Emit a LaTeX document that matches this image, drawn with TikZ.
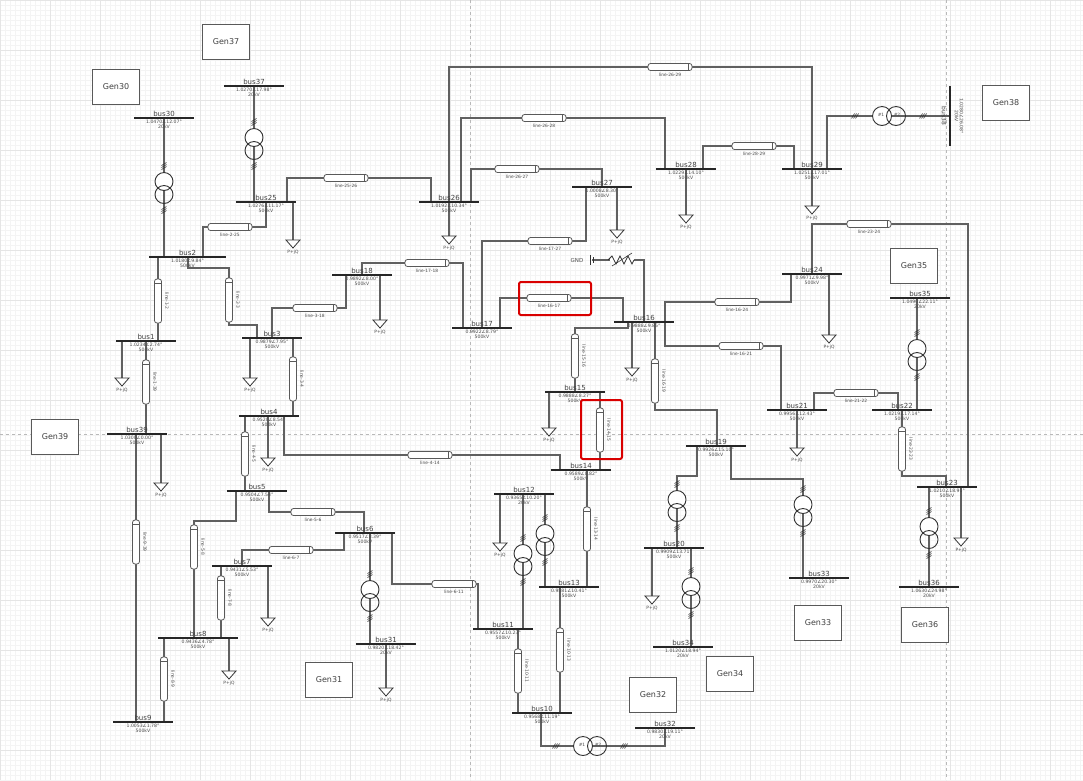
\documentclass[tikz,border=0pt]{standalone}
\usepackage{fontspec}
\setmainfont{DejaVu Sans}
\begin{document}
\begin{tikzpicture}[x=1pt,y=-1pt,
  wire/.style={draw=gray!75!black,line width=1.1pt},
  busbar/.style={draw=black!85,line width=2.6pt},
  buslbl/.style={font=\fontsize{7}{7}\selectfont,text=black!75,inner sep=1pt},
  vallbl/.style={font=\fontsize{4.6}{5}\selectfont,text=black!70,inner sep=0.5pt,align=center},
  linelbl/.style={font=\fontsize{4.4}{5}\selectfont,text=black!70,inner sep=0.5pt},
  pillbox/.style={draw=gray!70!black,fill=white,line width=0.8pt,rounded corners=2.5pt},
  genbox/.style={draw=gray!70!black,fill=white,line width=1.3pt,minimum width=47pt,minimum height=35pt,font=\fontsize{8}{8}\selectfont,text=black!75},
  trcirc/.style={draw=black!80,line width=0.9pt},
  loadtri/.style={draw=black!80,fill=white,line width=0.8pt},
  hl/.style={draw=red!85!black,line width=2pt,rounded corners=2pt}]
\newcommand\busH[6]{\draw[busbar] (#1,#3) -- (#2,#3);
 \node[buslbl,above] at ({(#1+#2)/2},#3) {#4};
 \node[vallbl,below] at ({(#1+#2)/2},{#3+1}) {#5\\#6};}
\newcommand\pillH[3]{\draw[pillbox] ({#1-22},{#2-3.5}) rectangle ({#1+22},{#2+3.5});
 \draw[gray!70!black,line width=0.7pt] ({#1+18},{#2-3.5}) -- ({#1+18},{#2+3.5});
 \node[linelbl] at (#1,{#2+8}) {#3};}
\newcommand\pillV[3]{\draw[pillbox] ({#1-3.5},{#2-22}) rectangle ({#1+3.5},{#2+22});
 \draw[gray!70!black,line width=0.7pt] ({#1-3.5},{#2-18}) -- ({#1+3.5},{#2-18});
 \node[linelbl,rotate=-90] at ({#1+9},#2) {#3};}
\newcommand\load[2]{\draw[loadtri] ({#1-7},#2) -- ({#1+7},#2) -- (#1,{#2+8}) -- cycle;
 \node[linelbl] at (#1,{#2+12}) {P+jQ};}
\newcommand\hashV[2]{\foreach \k in {-2,0,2}{\draw[black!80,line width=0.6pt] ({#1-2.5},{#2+\k+1.5}) -- ({#1+2.5},{#2+\k-1.5});}}
\newcommand\hashH[2]{\foreach \k in {-2,0,2}{\draw[black!80,line width=0.6pt] ({#1+\k-1.5},{#2+2.5}) -- ({#1+\k+1.5},{#2-2.5});}}
\newcommand\trV[3]{\hashV{#1}{#2-#3-16}\hashV{#1}{#2+#3+16}
 \draw[trcirc,fill=white] (#1,{#2-6.5}) circle (9); \draw[trcirc] (#1,{#2+6.5}) circle (9);}
\newcommand\trH[2]{\hashH{#1-34}{#2}\hashH{#1+34}{#2}
 \draw[trcirc,fill=white] ({#1-7},#2) circle (9.5); \draw[trcirc] ({#1+7},#2) circle (9.5);
 \node[linelbl] at ({#1-8},{#2-1}) {\#1}; \node[linelbl] at ({#1+8},{#2-1}) {\#2};}
\useasboundingbox (0,0) rectangle (1083,780);
\fill[white] (0,0) rectangle (1083,780);
\foreach \i in {0,5,...,1080} {\draw[gray!9,line width=0.3pt] (\i,0) -- (\i,780);}
\foreach \i in {0,5,...,780} {\draw[gray!9,line width=0.3pt] (0,\i) -- (1083,\i);}
\foreach \i in {0,50,...,1080} {\draw[gray!20,line width=0.4pt] (\i,0) -- (\i,780);}
\foreach \i in {0,50,...,780} {\draw[gray!20,line width=0.4pt] (0,\i) -- (1083,\i);}
\draw[gray!55,dashed,line width=0.5pt] (470,0) -- (470,780) (946,0) -- (946,780) (0,434) -- (1083,434);
% ---------- wires ----------
\draw[wire] (164,118) -- (164,257);
\draw[wire] (254,86) -- (254,202);
\draw[wire] (287,202) -- (287,178) -- (431,178) -- (431,202);
\draw[wire] (203,257) -- (203,227) -- (266,227) -- (266,202);
\draw[wire] (293,202) -- (293,240);
\draw[wire] (449,240) -- (449,67) -- (812,67) -- (812,208);
\draw[wire] (461,202) -- (461,118) -- (665,118) -- (665,169);
\draw[wire] (471,202) -- (471,169) -- (602,169) -- (602,187);
\draw[wire] (703,169) -- (703,146) -- (794,146) -- (794,169);
\draw[wire] (686,169) -- (686,215);
\draw[wire] (827,169) -- (827,116) -- (950,116);
\draw[wire] (812,274) -- (812,224) -- (968,224) -- (968,487);
\draw[wire] (829,274) -- (829,335);
\draw[wire] (665,322) -- (665,302) -- (791,302) -- (791,274);
\draw[wire] (665,322) -- (665,346) -- (781,346) -- (781,410);
\draw[wire] (617,187) -- (617,230);
\draw[wire] (482,328) -- (482,241) -- (586,241) -- (586,187);
\draw[wire] (592,260) -- (644,260) -- (644,322);
\draw[wire] (362,275) -- (362,263) -- (463,263) -- (463,328);
\draw[wire] (500,328) -- (500,298) -- (623,298) -- (623,322);
\draw[wire] (272,338) -- (272,308) -- (346,308) -- (346,275);
\draw[wire] (380,275) -- (380,320);
\draw[wire] (188,257) -- (188,268) -- (229,268) -- (229,325) -- (257,325) -- (257,338);
\draw[wire] (158,257) -- (158,341);
\draw[wire] (122,341) -- (122,378);
\draw[wire] (146,341) -- (146,434);
\draw[wire] (250,338) -- (250,378);
\draw[wire] (293,338) -- (293,416);
\draw[wire] (161,434) -- (161,483);
\draw[wire] (136,434) -- (136,722);
\draw[wire] (245,416) -- (245,491);
\draw[wire] (268,416) -- (268,458);
\draw[wire] (284,416) -- (284,455) -- (560,455) -- (560,470);
\draw[wire] (600,392) -- (600,470);
\draw[wire] (628,322) -- (628,328) -- (575,328) -- (575,392);
\draw[wire] (549,392) -- (549,428);
\draw[wire] (632,322) -- (632,368);
\draw[wire] (655,322) -- (655,410) -- (717,410) -- (717,446);
\draw[wire] (814,410) -- (814,393) -- (898,393) -- (898,410);
\draw[wire] (797,410) -- (797,448);
\draw[wire] (917,298) -- (917,410);
\draw[wire] (902,410) -- (902,476) -- (946,476) -- (946,487);
\draw[wire] (961,487) -- (961,538);
\draw[wire] (929,487) -- (929,587);
\draw[wire] (697,446) -- (697,476) -- (677,476) -- (677,548);
\draw[wire] (731,446) -- (731,479) -- (803,479) -- (803,578);
\draw[wire] (652,548) -- (652,596);
\draw[wire] (691,548) -- (691,647);
\draw[wire] (587,470) -- (587,587);
\draw[wire] (500,494) -- (500,543);
\draw[wire] (523,494) -- (523,629);
\draw[wire] (545,494) -- (545,587);
\draw[wire] (560,587) -- (560,713);
\draw[wire] (518,629) -- (518,713);
\draw[wire] (392,533) -- (392,584) -- (478,584) -- (478,629);
\draw[wire] (541,713) -- (541,746) -- (665,746) -- (665,728);
\draw[wire] (269,491) -- (269,512) -- (364,512) -- (364,533);
\draw[wire] (344,533) -- (344,550) -- (242,550) -- (242,566);
\draw[wire] (236,491) -- (236,521) -- (194,521) -- (194,638);
\draw[wire] (370,533) -- (370,644);
\draw[wire] (221,566) -- (221,638);
\draw[wire] (268,566) -- (268,618);
\draw[wire] (229,638) -- (229,671);
\draw[wire] (164,638) -- (164,722);
\draw[wire] (386,644) -- (386,688);
% ---------- lines ----------
\pillH{346}{178}{line-25-26}
\pillH{230}{227}{line-2-25}
\pillH{670}{67}{line-26-29}
\pillH{544}{118}{line-26-28}
\pillH{517}{169}{line-26-27}
\pillH{754}{146}{line-28-29}
\pillH{869}{224}{line-23-24}
\pillH{737}{302}{line-16-24}
\pillH{741}{346}{line-16-21}
\pillH{550}{241}{line-17-27}
\pillH{427}{263}{line-17-18}
\pillH{549}{298}{line-16-17}
\pillH{315}{308}{line-3-18}
\pillH{430}{455}{line-4-14}
\pillH{856}{393}{line-21-22}
\pillH{454}{584}{line-6-11}
\pillH{313}{512}{line-5-6}
\pillH{291}{550}{line-6-7}
\pillV{229}{300}{line-2-3}
\pillV{158}{301}{line-1-2}
\pillV{146}{382}{line-1-39}
\pillV{293}{379}{line-3-4}
\pillV{136}{542}{line-9-39}
\pillV{245}{454}{line-4-5}
\pillV{600}{430}{line-14-15}
\pillV{575}{356}{line-15-16}
\pillV{655}{381}{line-16-19}
\pillV{902}{449}{line-22-23}
\pillV{587}{529}{line-13-14}
\pillV{560}{650}{line-10-13}
\pillV{518}{671}{line-10-11}
\pillV{194}{547}{line-5-8}
\pillV{221}{598}{line-7-8}
\pillV{164}{679}{line-8-9}
% ---------- transformers ----------
\trV{164}{188}{6}
\trV{254}{144}{6}
\trV{917}{355}{6}
\trV{929}{533}{6}
\trV{677}{506}{6}
\trV{803}{511}{6}
\trV{691}{593}{6}
\trV{523}{560}{6}
\trV{545}{540}{6}
\trV{370}{596}{6}
\trH{889}{116}
\trH{590}{746}
% ---------- loads ----------
\load{293}{240}\load{449}{236}\load{812}{206}\load{686}{215}\load{617}{230}
\load{829}{335}\load{380}{320}\load{122}{378}\load{250}{378}\load{161}{483}
\load{268}{458}\load{549}{428}\load{632}{368}\load{797}{448}\load{961}{538}
\load{652}{596}\load{500}{543}\load{268}{618}\load{229}{671}\load{386}{688}
% ---------- ground resistor ----------
\node[linelbl,font=\fontsize{5.5}{6}\selectfont] at (577,260) {GND};
\draw[black!80,line width=1pt] (590,255) -- (590,265);
\draw[black!80,line width=0.6pt] (593,257) -- (593,263);
\draw[white,line width=2pt] (610,260) -- (634,260);
\draw[black!80,line width=0.8pt] (608,260) -- (612,256) -- (616,264) -- (620,256) -- (624,264) -- (628,256) -- (632,264) -- (634,260);
\draw[black!80,line width=0.6pt] (612,266) -- (632,253);
% ---------- buses ----------
\busH{134}{194}{118}{bus30}{1.0470∠12.07°}{20kV}
\busH{224}{284}{86}{bus37}{1.0270∠17.98°}{20kV}
\busH{236}{296}{202}{bus25}{1.0276∠11.17°}{500kV}
\busH{419}{479}{202}{bus26}{1.0192∠10.34°}{500kV}
\busH{149}{226}{257}{bus2}{1.0180∠9.84°}{500kV}
\busH{332}{392}{275}{bus18}{0.9892∠8.00°}{500kV}
\busH{656}{716}{169}{bus28}{1.0229∠14.10°}{500kV}
\busH{782}{842}{169}{bus29}{1.0251∠17.01°}{500kV}
\busH{572}{632}{187}{bus27}{1.0008∠8.30°}{500kV}
\busH{452}{512}{328}{bus17}{0.9922∠8.79°}{500kV}
\busH{614}{674}{322}{bus16}{0.9888∠9.85°}{500kV}
\busH{782}{842}{274}{bus24}{0.9971∠9.98°}{500kV}
\busH{890}{950}{298}{bus35}{1.0490∠22.11°}{20kV}
\busH{116}{176}{341}{bus1}{1.0234∠2.74°}{500kV}
\busH{242}{302}{338}{bus3}{0.9879∠7.95°}{500kV}
\busH{545}{605}{392}{bus15}{0.9888∠8.27°}{500kV}
\busH{767}{827}{410}{bus21}{0.9956∠12.43°}{500kV}
\busH{872}{932}{410}{bus22}{1.0219∠17.14°}{500kV}
\busH{239}{299}{416}{bus4}{0.9520∠8.54°}{500kV}
\busH{107}{167}{434}{bus39}{1.0300∠0.00°}{500kV}
\busH{686}{746}{446}{bus19}{0.9926∠15.10°}{500kV}
\busH{551}{611}{470}{bus14}{0.9589∠8.82°}{500kV}
\busH{917}{977}{487}{bus23}{1.0210∠18.91°}{500kV}
\busH{227}{287}{491}{bus5}{0.9504∠7.54°}{500kV}
\busH{494}{554}{494}{bus12}{0.9365∠10.20°}{20kV}
\busH{335}{395}{533}{bus6}{0.9517∠8.39°}{500kV}
\busH{644}{704}{548}{bus20}{0.9909∠13.71°}{500kV}
\busH{212}{272}{566}{bus7}{0.9431∠5.53°}{500kV}
\busH{539}{599}{587}{bus13}{0.9581∠10.41°}{500kV}
\busH{789}{849}{578}{bus33}{0.9970∠20.30°}{20kV}
\busH{899}{959}{587}{bus36}{1.0630∠24.98°}{20kV}
\busH{158}{238}{638}{bus8}{0.9436∠4.78°}{500kV}
\busH{356}{416}{644}{bus31}{0.9820∠18.42°}{20kV}
\busH{473}{533}{629}{bus11}{0.9557∠10.23°}{500kV}
\busH{653}{713}{647}{bus34}{1.0120∠18.94°}{20kV}
\busH{113}{173}{722}{bus9}{1.0053∠1.78°}{500kV}
\busH{512}{572}{713}{bus10}{0.9568∠11.19°}{500kV}
\busH{635}{695}{728}{bus32}{0.9830∠19.11°}{20kV}
\draw[busbar] (950,86) -- (950,146);
\node[buslbl,rotate=-90,font=\fontsize{6}{6}\selectfont] at (944,116) {bus38};
\node[vallbl,rotate=-90] at (959,116) {1.0280∠26.08°\\20kV};
% ---------- generators ----------
\node[genbox] (g37) at (226,42) {Gen37};
\node[genbox] (g30) at (116,87) {Gen30};
\node[genbox] (g38) at (1006,103) {Gen38};
\node[genbox] (g35) at (914,266) {Gen35};
\node[genbox] (g39) at (55,437) {Gen39};
\node[genbox] (g31) at (329,680) {Gen31};
\node[genbox] (g32) at (653,695) {Gen32};
\node[genbox] (g34) at (730,674) {Gen34};
\node[genbox] (g33) at (818,623) {Gen33};
\node[genbox] (g36) at (925,625) {Gen36};
% ---------- highlights ----------
\draw[hl] (519,282) rectangle (591,315);
\draw[hl] (581,400) rectangle (622,459);
\end{tikzpicture}
\end{document}
